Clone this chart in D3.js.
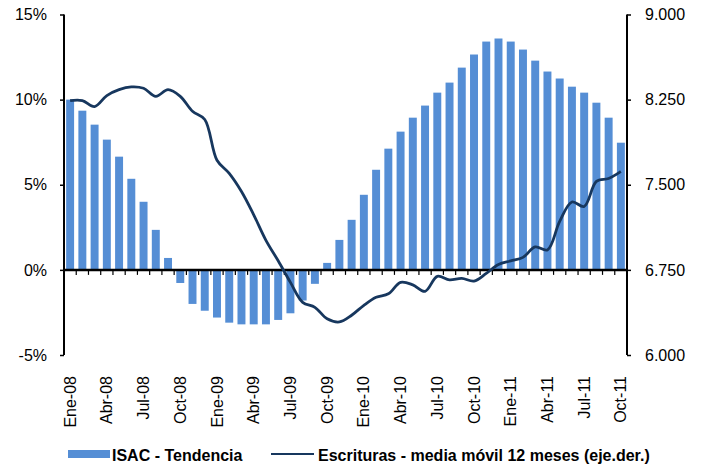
<!DOCTYPE html>
<html>
<head>
<meta charset="utf-8">
<script src="https://cdn.jsdelivr.net/npm/d3@7"></script>
<style>
  body { margin: 0; background: #fff; }
</style>
</head>
<body>
<div id="chart"></div>
<script>
// months Ene-08 .. Oct-11
const mesNames = ["Ene", "Feb", "Mar", "Abr", "May", "Jun", "Jul", "Ago", "Sep", "Oct", "Nov", "Dic"]
const years = ["08", "09", "10", "11"]
const months = []
years.forEach(yy => mesNames.forEach(m => months.push(m + "-" + yy)))
months.splice(46)

// ISAC - Tendencia (% , left axis)
const isac = [
  10.0, 9.35, 8.53, 7.65, 6.65, 5.35, 4.0, 2.35, 0.7, -0.77, -2.0, -2.4,
  -2.8, -3.1, -3.2, -3.2, -3.2, -2.94, -2.55, -1.8, -0.82, 0.41, 1.76, 2.94,
  4.41, 5.88, 7.12, 8.12, 8.94, 9.65, 10.41, 11.0, 11.88, 12.65, 13.41, 13.59,
  13.41, 12.94, 12.29, 11.65, 11.24, 10.76, 10.41, 9.82, 8.94, 7.47
]

// Escrituras - media movil 12 meses (right axis)
const escrituras = [
  8242, 8242, 8189, 8286, 8338, 8362, 8350, 8279, 8338, 8279, 8147, 8075,
  7716, 7600, 7440, 7235, 7010, 6830, 6640, 6464, 6420, 6319, 6291, 6350,
  6438, 6508, 6539, 6640, 6618, 6561, 6693, 6662, 6675, 6651, 6719, 6798,
  6829, 6860, 6952, 6926, 7177, 7348, 7309, 7529, 7555, 7617
]

const leftTicks = [-5, 0, 5, 10, 15]
const rightTicks = [6000, 6750, 7500, 8250, 9000]

const legendLabels = ["ISAC - Tendencia", "Escrituras - media móvil 12 meses (eje.der.)"]

const width = 704
const height = 468
const plot = { left: 64, right: 627, top: 14.5, bottom: 355 }
const barColor = "#558ed5"
const lineColor = "#17375e"
const font = "'Liberation Sans', Arial, sans-serif"

const svg = d3.select("#chart").append("svg")
    .attr("width", width)
    .attr("height", height)
    .style("background", "#fff")

const x = d3.scaleBand()
    .domain(months)
    .range([plot.left, plot.right])
    .paddingInner(0.35)
    .paddingOuter(0.175)

const y = d3.scaleLinear().domain([-5, 15]).range([plot.bottom, plot.top])
const y2 = d3.scaleLinear().domain([6000, 9000]).range([plot.bottom, plot.top])

const esLocale = d3.formatLocale({ decimal: ",", thousands: ".", grouping: [3], currency: ["", " €"] })
const fmtMiles = esLocale.format(",.0f")

// bars
svg.append("g")
  .selectAll("rect")
  .data(isac)
  .enter().append("rect")
    .attr("x", (d, i) => x(months[i]))
    .attr("y", d => y(Math.max(0, d)))
    .attr("width", x.bandwidth())
    .attr("height", d => Math.abs(y(d) - y(0)))
    .attr("fill", barColor)

// left axis
const yAxis = svg.append("g")
    .attr("transform", `translate(${plot.left},0)`)
    .call(d3.axisLeft(y).tickValues(leftTicks).tickSize(4).tickPadding(13).tickFormat(d => d + "%"))
yAxis.select(".domain").attr("d", `M0,${plot.top}V${plot.bottom}`).attr("stroke", "#000").attr("stroke-width", 2)

// right axis
const y2Axis = svg.append("g")
    .attr("transform", `translate(${plot.right},0)`)
    .call(d3.axisRight(y2).tickValues(rightTicks).tickSize(4).tickPadding(14).tickFormat(fmtMiles))
y2Axis.select(".domain").attr("d", `M0,${plot.top}V${plot.bottom}`).attr("stroke", "#000").attr("stroke-width", 2)

svg.selectAll(".tick line").attr("stroke", "#000").attr("stroke-width", 1.5)
svg.selectAll(".tick text")
    .attr("font-family", font)
    .attr("font-size", 16)
    .attr("fill", "#000")

// zero line with small ticks between categories
const step = x.step()
svg.append("line")
    .attr("x1", plot.left).attr("x2", plot.right)
    .attr("y1", y(0)).attr("y2", y(0))
    .attr("stroke", "#000")
    .attr("stroke-width", 2.5)
svg.append("g")
  .selectAll("line")
  .data(months.slice(0, -1))
  .enter().append("line")
    .attr("x1", d => x(d) + x.bandwidth() + (step - x.bandwidth()) / 2)
    .attr("x2", d => x(d) + x.bandwidth() + (step - x.bandwidth()) / 2)
    .attr("y1", y(0))
    .attr("y2", y(0) + 5)
    .attr("stroke", "#000")
    .attr("stroke-width", 1.2)

// month labels, every 3rd, rotated
svg.append("g")
  .selectAll("text")
  .data(months.filter((d, i) => i % 3 === 0))
  .enter().append("text")
    .attr("transform", d => `translate(${x(d) + x.bandwidth() / 2},376) rotate(-90)`)
    .attr("dy", "0.35em")
    .attr("text-anchor", "end")
    .attr("font-family", font)
    .attr("font-size", 16)
    .attr("fill", "#000")
    .text(d => d)

// line (right axis)
const line = d3.line()
    .x((d, i) => x(months[i]) + x.bandwidth() / 2)
    .y(d => y2(d))
    .curve(d3.curveCatmullRom.alpha(0.5))

svg.append("path")
    .datum(escrituras)
    .attr("d", line)
    .attr("fill", "none")
    .attr("stroke", lineColor)
    .attr("stroke-width", 2.8)
    .attr("stroke-linejoin", "round")

// legend
const legend = svg.append("g")
legend.append("rect")
    .attr("x", 68).attr("y", 450)
    .attr("width", 42).attr("height", 8)
    .attr("fill", barColor)
legend.append("text")
    .attr("x", 112).attr("y", 461)
    .attr("font-family", font)
    .attr("font-size", 16)
    .attr("font-weight", "bold")
    .text(legendLabels[0])
legend.append("line")
    .attr("x1", 271).attr("x2", 314)
    .attr("y1", 454).attr("y2", 454)
    .attr("stroke", lineColor)
    .attr("stroke-width", 2)
legend.append("text")
    .attr("x", 318).attr("y", 461)
    .attr("font-family", font)
    .attr("font-size", 16)
    .attr("font-weight", "bold")
    .text(legendLabels[1])
</script>
</body>
</html>
